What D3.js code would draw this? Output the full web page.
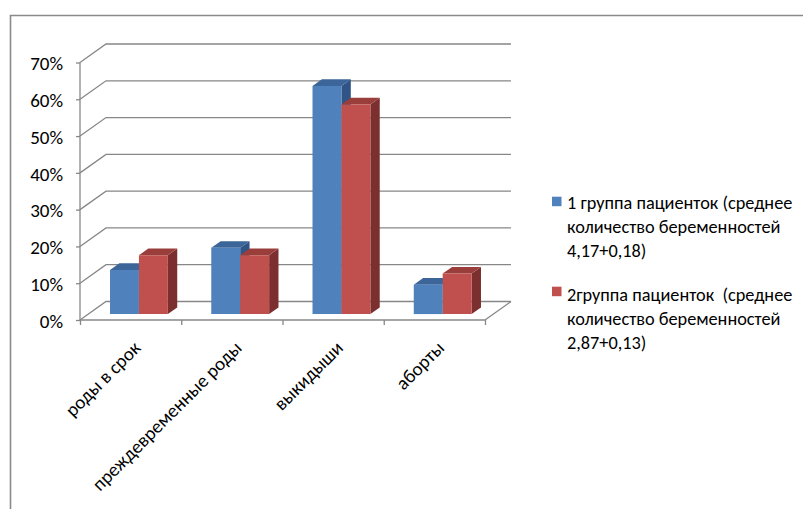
<!DOCTYPE html>
<html lang="ru">
<head>
<meta charset="utf-8">
<script src="https://cdn.jsdelivr.net/npm/d3@7"></script>
<style>
  html, body { margin: 0; padding: 0; background: #fff; }
  svg { display: block; }
  text { font-family: Calibri, Carlito, Lato, "Noto Sans", sans-serif; fill: #000; }
</style>
</head>
<body>
<svg id="chart" width="803" height="509"></svg>
<script>
// Outcome categories of previous pregnancies
const categories = ["роды в срок", "преждевременные роды", "выкидыши", "аборты"];

// Share of outcomes, %
const group1Values = [12, 18, 62, 8];
const group2Values = [16, 16, 57, 11];

// Value axis ticks, %
const yTicks = [0, 10, 20, 30, 40, 50, 60, 70];

// Legend text, one array of lines per series
const group1Label = ["1 группа пациенток (среднее", "количество беременностей", "4,17+0,18)"];
const group2Label = ["2группа пациенток  (среднее", "количество беременностей", "2,87+0,13)"];

const seriesColors = [
  { front: "#4F81BD", top: "#3C6699", side: "#2F5485" },
  { front: "#C0504D", top: "#9A3E3C", side: "#7B2F2E" }
];
const seriesData = [group1Values, group2Values];

const svg = d3.select("#chart");
const gridColor = "#878787";
const labelSize = 19;

// Chart frame
svg.append("path")
  .attr("d", "M10.5,520 V15.5 H820")
  .attr("fill", "none")
  .attr("stroke", "#8a8a8a")
  .attr("stroke-width", 1.6);

// Front plane scales
const x = d3.scaleBand().domain(categories).range([80, 485]).paddingInner(0).paddingOuter(0);
const y = d3.scaleLinear().domain([0, 70]).range([320, 62.5]);
const sub = d3.scaleBand().domain([0, 1]).range([0, x.bandwidth()]).paddingInner(0).paddingOuter(0.75);

// Oblique depth projection (d = 0 front, d = 1 back wall)
const DX = 26, DY = -18.5;
const proj = (px, py, d) => [px + DX * d, py + DY * d];

const walls = svg.append("g").attr("fill", "none").attr("stroke", gridColor).attr("stroke-width", 1.3);

// Gridlines on the side wall and back wall
yTicks.forEach(t => {
  const p0 = [80, y(t)];
  const p1 = proj(80, y(t), 1);
  const p2 = proj(485, y(t), 1);
  walls.append("path").attr("d", d3.line()([p0, p1, p2]));
});

// Floor right edge
walls.append("path").attr("d", d3.line()([[485, y(0)], proj(485, y(0), 1)]));

// Columns
const D0 = 0.32, D1 = 0.68;
const bars = svg.append("g");
categories.forEach((c, ci) => {
  seriesData.forEach((vals, si) => {
    const v = vals[ci];
    const xl = x(c) + sub(si);
    const xr = xl + sub.bandwidth();
    const col = seriesColors[si];
    const fBL = proj(xl, y(0), D0), fBR = proj(xr, y(0), D0);
    const fTL = proj(xl, y(v), D0), fTR = proj(xr, y(v), D0);
    const bTL = proj(xl, y(v), D1), bTR = proj(xr, y(v), D1);
    const bBR = proj(xr, y(0), D1);
    const g = bars.append("g");
    // right side face
    g.append("path").attr("d", d3.line()([fBR, fTR, bTR, bBR]) + "Z").attr("fill", col.side);
    // top face
    g.append("path").attr("d", d3.line()([fTL, fTR, bTR, bTL]) + "Z").attr("fill", col.top);
    // front face
    g.append("path").attr("d", d3.line()([fBL, fBR, fTR, fTL]) + "Z").attr("fill", col.front);
  });
});

// Value axis
const yAxis = svg.append("g")
  .attr("transform", "translate(80,0)")
  .call(d3.axisLeft(y).tickValues(yTicks).tickFormat(d => d + "%").tickSize(4).tickPadding(13));
yAxis.select(".domain").attr("stroke", gridColor).attr("stroke-width", 1.3).attr("d", `M0,${y(0)}V${y(70)}`);
yAxis.selectAll(".tick line").attr("stroke", gridColor).attr("stroke-width", 1.3);
yAxis.selectAll(".tick text")
  .attr("font-size", labelSize)
  .attr("font-family", "Calibri, Carlito, Lato, 'Noto Sans', sans-serif")
  .attr("fill", "#000")
  .attr("dy", "0.38em");

// Category axis: ticks at band edges
const edges = d3.scaleLinear().domain([0, categories.length]).range(x.range());
const xAxis = svg.append("g")
  .attr("transform", `translate(0,${y(0)})`)
  .call(d3.axisBottom(edges).tickValues(d3.range(categories.length + 1)).tickFormat("").tickSize(5));
xAxis.select(".domain").attr("stroke", gridColor).attr("stroke-width", 1.3).attr("d", `M${x.range()[0]},0H${x.range()[1]}`);
xAxis.selectAll(".tick line").attr("stroke", gridColor).attr("stroke-width", 1.3);

// Rotated category labels
svg.append("g").selectAll("text")
  .data(categories)
  .join("text")
  .attr("transform", d => `translate(${x(d) + x.bandwidth() / 2 + 1},${339}) rotate(-45)`)
  .attr("text-anchor", "end")
  .attr("dy", "0.75em")
  .attr("font-size", labelSize)
  .text(d => d);

// Legend
const legend = svg.append("g").attr("transform", "translate(552,0)");
const entries = [
  { lines: group1Label, color: seriesColors[0].front, top: 196.7, base: 208.5 },
  { lines: group2Label, color: seriesColors[1].front, top: 286.7, base: 300.5 }
];
entries.forEach(e => {
  legend.append("rect").attr("x", 0).attr("y", e.top).attr("width", 9.5).attr("height", 9.5).attr("fill", e.color);
  const t = legend.append("text").attr("x", 15).attr("y", e.base).attr("font-size", 18.3).attr("xml:space", "preserve");
  e.lines.forEach((ln, i) => {
    t.append("tspan").attr("x", 15).attr("y", e.base + i * 24).text(ln);
  });
});
</script>
</body>
</html>
